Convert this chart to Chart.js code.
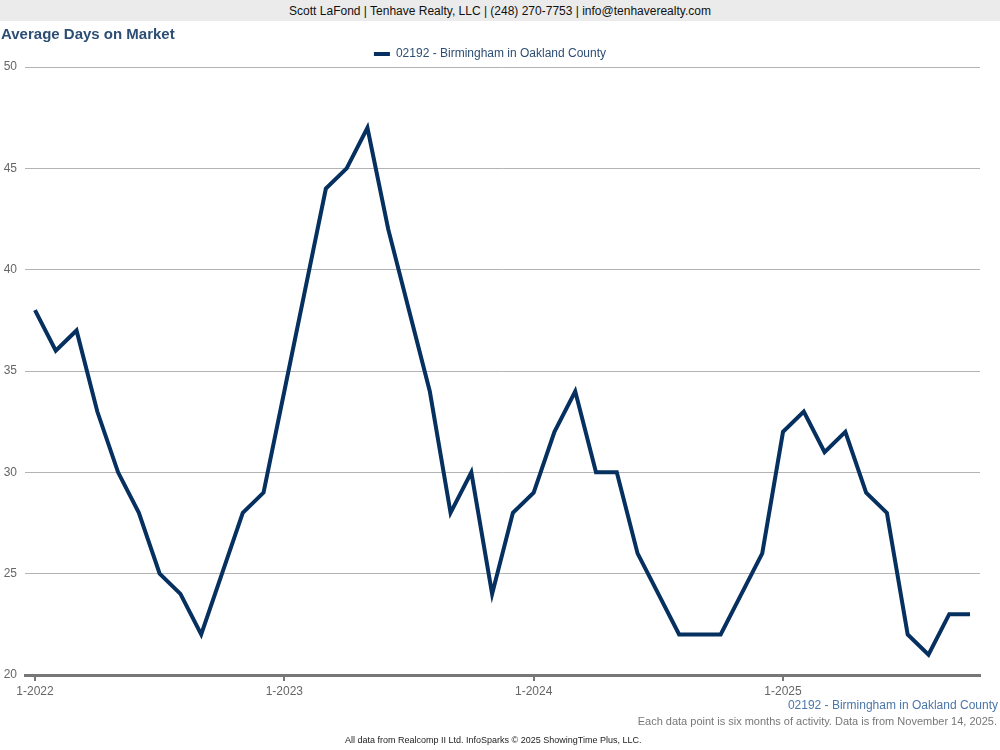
<!DOCTYPE html>
<html>
<head>
<meta charset="utf-8">
<script src="https://cdn.jsdelivr.net/npm/chart.js@4.4.1/dist/chart.umd.min.js"></script>
<style>
  html, body { margin: 0; padding: 0; background: #fff; }
  body { width: 1000px; height: 750px; position: relative; overflow: hidden; font-family: "Liberation Sans", Arial, sans-serif; }
  #wrap { position: absolute; left: 0; top: 0; width: 1000px; height: 750px; }
  .txt { position: absolute; white-space: nowrap; pointer-events: none; }
  #bar { left: 0; top: 0; width: 1000px; height: 21px; background: #ebebeb; text-align: center; font-size: 12px; line-height: 22px; color: #111; }
  #title { left: 1px; top: 25px; font-size: 15px; font-weight: bold; color: #2d4e74; }
  #src { right: 2px; top: 698px; font-size: 12px; color: #4b76a8; }
  #note { right: 3px; top: 715px; font-size: 11px; color: #777; }
  #foot { left: 345px; top: 735px; font-size: 9px; color: #222; }
</style>
</head>
<body>
<div id="wrap"><canvas id="chart"></canvas></div>
<div class="txt" id="bar">Scott LaFond | Tenhave Realty, LLC | (248) 270-7753 | info@tenhaverealty.com</div>
<div class="txt" id="title">Average Days on Market</div>
<div class="txt" id="src">02192 - Birmingham in Oakland County</div>
<div class="txt" id="note">Each data point is six months of activity. Data is from November 14, 2025.</div>
<div class="txt" id="foot">All data from Realcomp II Ltd. InfoSparks © 2025 ShowingTime Plus, LLC.</div>
<script>
// monthly points, 1-2022 .. 10-2025
const months = [
  '1-2022','2-2022','3-2022','4-2022','5-2022','6-2022','7-2022','8-2022','9-2022','10-2022','11-2022','12-2022',
  '1-2023','2-2023','3-2023','4-2023','5-2023','6-2023','7-2023','8-2023','9-2023','10-2023','11-2023','12-2023',
  '1-2024','2-2024','3-2024','4-2024','5-2024','6-2024','7-2024','8-2024','9-2024','10-2024','11-2024','12-2024',
  '1-2025','2-2025','3-2025','4-2025','5-2025','6-2025','7-2025','8-2025','9-2025','10-2025'
];
const daysOnMarket = [
  38, 36, 37, 33, 30, 28, 25, 24, 22, 25, 28, 29,
  34, 39, 44, 45, 47, 42, 38, 34, 28, 30, 24, 28,
  29, 32, 34, 30, 30, 26, 24, 22, 22, 22, 24, 26,
  32, 33, 31, 32, 29, 28, 22, 21, 23, 23
];
const xTickIdx = [0, 12, 24, 36];
const yTicks = [20, 25, 30, 35, 40, 45, 50];
const seriesName = '02192 - Birmingham in Oakland County';

const navy = '#05305f';

// pull the plot area a little closer to the legend
const tightLegend = {
  id: 'tightLegend',
  beforeLayout(chart) {
    const lg = chart.legend;
    if (lg && !lg._tight) {
      const fit = lg.fit;
      lg.fit = function() { fit.call(this); this.height -= 3; };
      lg._tight = true;
    }
  }
};

const ctx = document.getElementById('chart');
new Chart(ctx, {
  type: 'line',
  data: {
    datasets: [{
      label: seriesName,
      data: daysOnMarket.map((v, i) => ({ x: i, y: v })),
      borderColor: navy,
      backgroundColor: navy,
      borderWidth: 4,
      pointRadius: 0,
      tension: 0
    }]
  },
  plugins: [tightLegend],
  options: {
    responsive: true,
    maintainAspectRatio: false,
    animation: false,
    layout: { padding: { left: 0, right: 20, top: 45, bottom: 45 } },
    plugins: {
      tooltip: { enabled: false },
      legend: {
        position: 'top',
        labels: {
          color: '#2d4e74',
          font: { family: '"Liberation Sans", Arial, sans-serif', size: 12 },
          boxWidth: 16,
          boxHeight: 4,
          padding: 3,
          generateLabels: function(chart) {
            const items = Chart.defaults.plugins.legend.labels.generateLabels(chart);
            items.forEach(it => { it.lineWidth = 0; it.fillStyle = navy; });
            return items;
          }
        }
      }
    },
    scales: {
      x: {
        type: 'linear',
        min: -0.48,
        max: 45.48,
        afterBuildTicks: function(scale) {
          scale.ticks = xTickIdx.map(v => ({ value: v }));
        },
        afterFit: function(scale) { scale.height = 30; },
        ticks: {
          color: '#666',
          font: { family: '"Liberation Sans", Arial, sans-serif', size: 12 },
          padding: 3,
          maxRotation: 0,
          callback: function(value) { return months[value] || ''; }
        },
        grid: {
          drawOnChartArea: false,
          drawTicks: true,
          tickLength: 6,
          color: '#777',
          lineWidth: 2
        },
        border: { display: true, color: '#777', width: 3 }
      },
      y: {
        min: 20,
        max: 50,
        afterBuildTicks: function(scale) {
          scale.ticks = yTicks.map(v => ({ value: v }));
        },
        afterFit: function(scale) { scale.width = 25; },
        ticks: {
          color: '#666',
          font: { family: '"Liberation Sans", Arial, sans-serif', size: 12 },
          padding: 8
        },
        grid: { color: '#b3b3b3', lineWidth: 1, drawTicks: false },
        border: { display: false }
      }
    }
  }
});
</script>
</body>
</html>
